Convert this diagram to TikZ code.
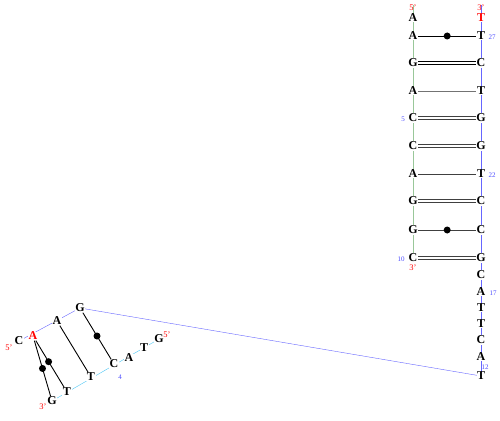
\documentclass[tikz,border=0pt]{standalone}
\usepackage{fontspec}
\setmainfont{Liberation Serif}
\usetikzlibrary{positioning,backgrounds}

\tikzset{
    base/.style={inner sep=0.5pt, fill=white, font=\fontsize{12}{12}\selectfont\bfseries},
    endbase/.style={base, text=red},
    prime/.style={inner sep=0pt, text=red, font=\fontsize{8.5}{8.5}\selectfont},
    num/.style={inner sep=0pt, text=blue!70, font=\fontsize{7}{7}\selectfont},
    single/.style={draw=black!75, line width=0.9pt},
    dbl/.style={draw=black!75, line width=0.9pt, double, double distance=2.2pt},
    wobble/.style={circle, fill=black, inner sep=0pt, minimum size=7pt}
}

\begin{document}
\begin{tikzpicture}[x=1pt, y=-1pt]
    \useasboundingbox (0,0) rectangle (500,420);

    % helix, left strand
    \node[base] (l1) at (413,18) {A};
    \node[base] (l2) at (413,36) {A};
    \node[base] (l3) at (413,63) {G};
    \node[base] (l4) at (413,91) {A};
    \node[base] (l5) at (413,118) {C};
    \node[base] (l6) at (413,146) {C};
    \node[base] (l7) at (413,174) {A};
    \node[base] (l8) at (413,201) {G};
    \node[base] (l9) at (413,230) {G};
    \node[base] (l10) at (413,258) {C};

    % helix, right strand
    \node[endbase] (r1) at (481,18) {T};
    \node[base] (r2) at (481,36) {T};
    \node[base] (r3) at (481,63) {C};
    \node[base] (r4) at (481,91) {T};
    \node[base] (r5) at (481,118) {G};
    \node[base] (r6) at (481,146) {G};
    \node[base] (r7) at (481,174) {T};
    \node[base] (r8) at (481,201) {C};
    \node[base] (r9) at (481,230) {C};
    \node[base] (r10) at (481,258) {G};
    \node[base] (r11) at (481,275) {C};
    \node[base] (r12) at (481,292) {A};
    \node[base] (r13) at (481,308) {T};
    \node[base] (r14) at (481,324) {T};
    \node[base] (r15) at (481,340) {C};
    \node[base] (r16) at (481,357) {A};
    \node[base] (r17) at (481,376) {T};

    % hairpin strands
    \node[base] (u1) at (19,341) {C};
    \node[endbase] (u2) at (33,336) {A};
    \node[base] (u3) at (57,321) {A};
    \node[base] (u4) at (80,308) {G};

    \node[base] (d1) at (52,401) {G};
    \node[base] (d2) at (67,392) {T};
    \node[base] (d3) at (91,377) {T};
    \node[base] (d4) at (114,364) {C};
    \node[base] (d5) at (129,358) {A};
    \node[base] (d6) at (144,348) {T};
    \node[base] (d7) at (159,339) {G};

    % backbones
    \coordinate (ltop) at (413,5);
    \coordinate (rtop) at (481,5);
    \begin{scope}[on background layer]
    \draw[green!45!black!40] (ltop) -- (l10.center);
    \draw[blue!60] (rtop) -- (r17.center);
    \path[draw=blue!60]
        (u1.center) -- (u4.center)
        (u4.center) -- (r17.center);
    \path[draw=cyan!70]
        (d1.center) -- (d7.center);
    \end{scope}

    % pairs
    \draw[single, draw=black] (l2) -- node[wobble] {} (r2);
    \draw[dbl, draw=black] (l3) -- (r3);
    \draw[single, draw=black!55] (l4) -- (r4);
    \draw[dbl] (l5) -- (r5);
    \draw[dbl] (l6) -- (r6);
    \draw[single] (l7) -- (r7);
    \draw[dbl] (l8) -- (r8);
    \draw[single] (l9) -- node[wobble] {} (r9);
    \draw[dbl] (l10) -- (r10);

    \draw[single, draw=black] (u2) -- node[wobble, pos=0.5] {} (d1);
    \draw[single, draw=black] (u2) -- node[wobble, pos=0.45] {} (d2);
    \draw[single, draw=black] (u3) -- (d3);
    \draw[single, draw=black] (u4) -- node[wobble, pos=0.5] {} (d4);

    % ends
    \node[prime] (p1) at (413,8) {5'};
    \node[prime] (p2) at (481,8) {3'};
    \node[prime] (p3) at (413,268) {3'};
    \node[prime] (p4) at (9,348) {5'};
    \node[prime] (p5) at (43,407) {3'};
    \node[prime] (p6) at (167,335) {5'};

    % numbering
    \node[num] (n27) at (492,37) {27};
    \node[num] (n5) at (403,119) {5};
    \node[num] (n22) at (492,175) {22};
    \node[num] (n10) at (401,259) {10};
    \node[num] (n17) at (493,293) {17};
    \node[num] (n12) at (485,367) {12};
    \node[num] (n4) at (120,377) {4};
\end{tikzpicture}
\end{document}
